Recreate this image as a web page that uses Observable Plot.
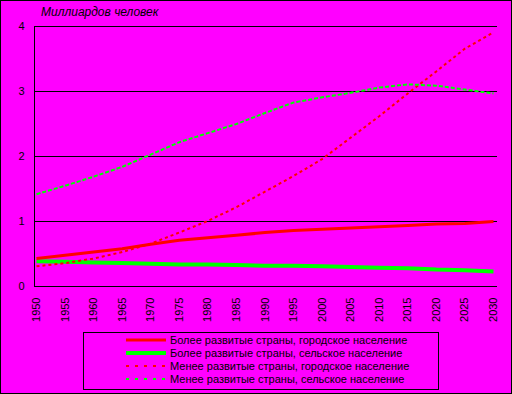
<!DOCTYPE html>
<html><head><meta charset="utf-8">
<script src="https://cdn.jsdelivr.net/npm/d3@7"></script>
<script src="https://cdn.jsdelivr.net/npm/@observablehq/plot@0.6"></script>
<style>
html,body{margin:0;padding:0;background:#ff00ff;}
#wrap{position:relative;width:512px;height:394px;background:#ff00ff;overflow:hidden;font-family:Arial,"Liberation Sans",sans-serif;}
#border{position:absolute;left:0;top:0;width:510px;height:392px;border:1px solid #000;pointer-events:none;}
#title{position:absolute;left:41px;top:5px;font-size:12px;font-style:italic;color:#000;white-space:nowrap;}
#legend{position:absolute;left:83px;top:332px;width:356px;height:58px;border:1px solid #000;box-sizing:border-box;}
.row{position:absolute;left:0;height:14px;display:flex;align-items:center;font-size:11px;color:#000;white-space:nowrap;}
.row svg{margin-left:42px;margin-right:4px;}
</style></head><body>
<div id="wrap"><div id="chart"></div><div id="title">Миллиардов человек</div><div id="legend"></div><div id="border"></div></div>
<script>
const years = [1950,1955,1960,1965,1970,1975,1980,1985,1990,1995,2000,2005,2010,2015,2020,2025,2030];
const moreUrban = [0.43,0.48,0.53,0.58,0.65,0.71,0.75,0.79,0.83,0.86,0.88,0.90,0.92,0.94,0.96,0.97,1.00];
const moreRural = [0.39,0.38,0.37,0.36,0.35,0.34,0.34,0.33,0.32,0.32,0.31,0.30,0.29,0.28,0.26,0.25,0.23];
const lessUrban = [0.31,0.36,0.43,0.53,0.66,0.83,1.01,1.22,1.46,1.70,1.96,2.29,2.62,2.97,3.31,3.66,3.91];
const lessRural = [1.42,1.55,1.69,1.84,2.03,2.22,2.36,2.50,2.67,2.83,2.91,2.98,3.06,3.11,3.09,3.03,2.97];
const seriesNames = [
  "Более развитые страны, городское население",
  "Более развитые страны, сельское население",
  "Менее развитые страны, городское население",
  "Менее развитые страны, сельское население"
];
const seriesValues = [moreUrban, moreRural, lessUrban, lessRural];
const yTicks = [0,1,2,3,4];
const xTicks = years;
const titleText = "Миллиардов человек";

const styles = [
  {stroke:"#ff0000", strokeWidth:3, dash:null},
  {stroke:"#00ff00", strokeWidth:4, dash:null},
  {stroke:"#ff0000", strokeWidth:2, dash:"3,3"},
  {stroke:"#00ff00", strokeWidth:2, dash:"4,2"}
];

const tables = seriesValues.map((vals, i) => years.map((yr, j) => ({year: yr, value: vals[j], series: seriesNames[i]})));
const drawOrder = [1, 0, 2, 3];

const chart = Plot.plot({
  width: 512, height: 328,
  marginTop: 26, marginBottom: 42, marginLeft: 34, marginRight: 15,
  insetLeft: 2, insetRight: 4,
  style: {background: "transparent", fontFamily: "Arial, 'Liberation Sans', sans-serif", fontSize: "11px", color: "#000"},
  x: {type: "linear", domain: [1950, 2030]},
  y: {domain: [0, 4]},
  marks: [
    Plot.ruleY(yTicks, {stroke: "#000", strokeWidth: 1}),
    Plot.ruleX([1950], {dx: -2, stroke: "#000", strokeWidth: 1}),
    Plot.axisY({ticks: yTicks, tickSize: 0, tickPadding: 10, label: null, tickFormat: d => String(d)}),
    Plot.axisX({ticks: xTicks, tickSize: 0, tickPadding: 11, tickRotate: -90, label: null, tickFormat: d => String(d)}),
    ...drawOrder.map(i => Plot.line(tables[i], {
      x: "year", y: "value",
      stroke: styles[i].stroke, strokeWidth: styles[i].strokeWidth,
      strokeDasharray: styles[i].dash || undefined,
      strokeLinecap: "butt", strokeLinejoin: "miter"
    }))
  ]
});
document.getElementById("chart").appendChild(chart);
document.getElementById("title").textContent = titleText;

const legend = document.getElementById("legend");
const rowTops = [0, 13, 26, 39];
seriesNames.forEach((name, i) => {
  const row = document.createElement("div");
  row.className = "row";
  row.style.top = rowTops[i] + "px";
  const s = styles[i];
  const dash = s.dash ? ' stroke-dasharray="3,6"' : '';
  const sw = s.dash ? 2 : (i === 0 ? 3 : 4);
  row.innerHTML = `<svg width="40" height="6"><line x1="0" x2="40" y1="3" y2="3" stroke="${s.stroke}" stroke-width="${sw}"${dash}/></svg><span></span>`;
  row.querySelector("span").textContent = name;
  legend.appendChild(row);
});
</script>
</body></html>
